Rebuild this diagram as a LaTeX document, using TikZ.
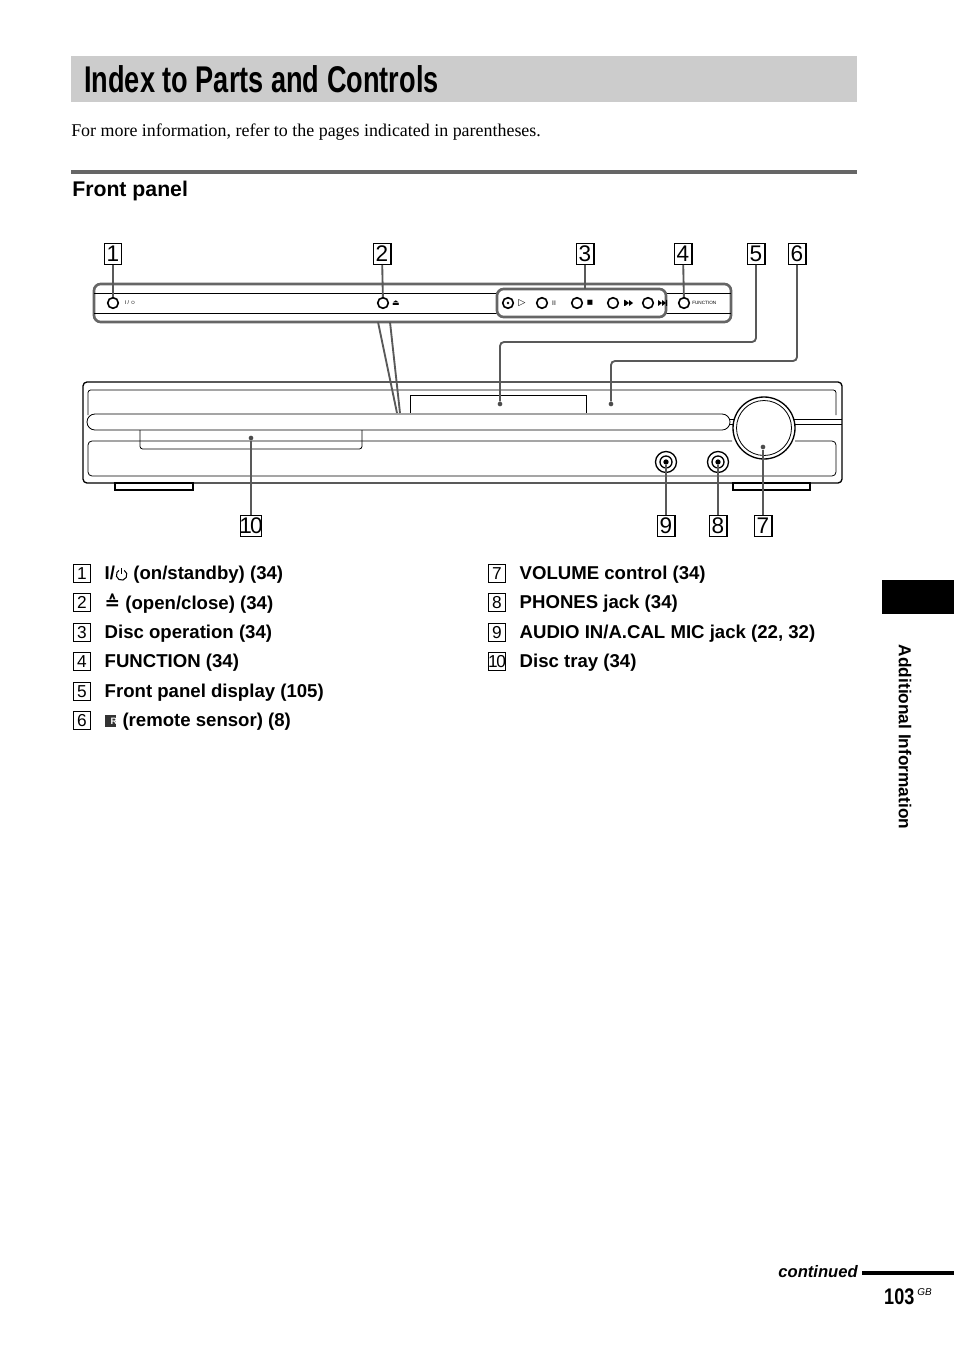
\documentclass[tikz,border=0pt]{standalone}
\usepackage{fontspec}
\setmainfont{Liberation Serif}
\setsansfont{Liberation Sans}
\newfontfamily\djfont{DejaVu Sans}
\begin{document}
\begin{tikzpicture}[x=0.0264583cm,y=-0.0264583cm,
  callout/.style={draw,line width=0.8pt,inner sep=0pt,minimum width=18pt*0.75,minimum height=21pt*0.75,font=\sffamily\fontsize{17}{17}\selectfont},
  lead/.style={draw=black!65,line width=1.4pt,rounded corners=3pt},
  gline/.style={draw=black!60,line width=2pt,rounded corners=5pt},
  dev/.style={draw,line width=1pt,rounded corners=3pt},
  btn/.style={circle,draw,line width=1.2pt,inner sep=0pt,minimum size=8pt},
  dotn/.style={circle,fill=black!70,inner sep=0pt,minimum size=3.5pt},
  item/.style={anchor=west,font=\sffamily\bfseries\fontsize{14}{15}\selectfont},
  nbox/.style={draw,line width=0.6pt,inner sep=0pt,minimum width=13pt,minimum height=13pt,font=\sffamily\fontsize{13}{13}\selectfont}]
\useasboundingbox (0,0) rectangle (954,1352);
% title
\fill[black!20] (71,56) rectangle (857,102);
\node[anchor=west,inner sep=0pt,xscale=0.73,transform shape] (title) at (84,79) {\sffamily\bfseries\fontsize{28}{30}\selectfont Index to Parts and Controls};
\node[anchor=west,inner sep=0pt] (intro) at (71,132) {\fontsize{13.5}{15}\selectfont For more information, refer to the pages indicated in parentheses.};
\fill[black!60] (71,170) rectangle (857,174);
\node[anchor=west,inner sep=0pt] (fp) at (72,191) {\sffamily\bfseries\fontsize{16}{17}\selectfont Front panel};
% strip
\draw[gline] (94,284) rectangle (731,322);
\draw[line width=0.6pt] (94,293) -- (731,293) (94,313) -- (731,313);
\draw[gline,fill=white] (497,289) rectangle (666,317);
\node[btn] (b1) at (113,303) {};
\node[font=\sffamily\fontsize{4}{4}\selectfont] (b1t) at (130,303) {I / $\circ$};
\node[btn] (b2) at (383,303) {};
\node[font=\djfont\fontsize{6}{6}\selectfont] (b2t) at (396,303) {⏏};
\node[btn] (b3a) at (508,303) {}; \node[circle,fill,inner sep=0pt,minimum size=2pt] at (508,303) {};
\node[font=\djfont\fontsize{7}{7}\selectfont] at (522,303) {▷};
\node[btn] (b3b) at (542,303) {}; \node[font=\sffamily\fontsize{5}{5}\selectfont] at (554,303) {II};
\node[btn] (b3c) at (577,303) {}; \node[font=\djfont\fontsize{5}{5}\selectfont] at (590,303) {■};
\node[btn] (b3d) at (613,303) {};
\fill (624,300) rectangle (625,306) (629,303) -- (625,300) -- (625,306) -- cycle (633,303) -- (629,300) -- (629,306) -- cycle;
\node[btn] (b3e) at (648,303) {};
\fill (658,300) -- (662,303) -- (658,306) -- cycle (662,300) -- (666,303) -- (662,306) -- cycle (666,300) rectangle (667,306);
\node[btn] (b4) at (684,303) {};
\node[anchor=west,font=\sffamily\fontsize{3.5}{4}\selectfont,inner sep=0pt] at (692,303) {FUNCTION};
% device
\draw[dev] (83,382) rectangle (842,483);
\draw[line width=0.6pt,rounded corners=2pt] (88,415) -- (88,390) -- (836,390) -- (836,415);
\draw[line width=0.6pt] (410,413) -- (410,395) -- (586,395) -- (586,413);
\draw[line width=0.6pt,rounded corners=6pt] (87,414) rectangle (730,430);
\draw[line width=0.6pt] (730,419) -- (842,419);
\draw[line width=0.6pt] (730,424) -- (842,424);
\draw[line width=0.6pt,rounded corners=2pt] (140,430) -- (140,449) -- (362,449) -- (362,430);
\draw[line width=0.6pt,rounded corners=3pt] (795,441) -- (836,441) -- (836,476) -- (88,476) -- (88,441) -- (732,441);
\draw[line width=1pt] (115,483) rectangle (193,490);
\draw[line width=1pt] (733,483) rectangle (810,490);
\draw[line width=1pt,fill=white] (764,428) circle (31);
\draw[line width=0.6pt] (764,428) circle (27.5);
\draw[line width=1pt] (666,462) circle (10.5) (666,462) circle (6);
\draw[line width=1pt] (718,462) circle (10.5) (718,462) circle (6);
\node[dotn] (d10) at (251,438) {};
\node[dotn] (d5) at (500,404) {};
\node[dotn] (d6) at (611,404) {};
\node[dotn] (d7) at (763,447) {};
\node[inner sep=0pt,minimum size=4pt,circle,fill] (d9) at (666,462) {};
\node[inner sep=0pt,minimum size=4pt,circle,fill] (d8) at (718,462) {};
% callouts
\node[callout] (c1) at (113,254) {1};
\node[callout] (c2) at (382,254) {2};
\node[callout] (c3) at (585,254) {3};
\node[callout] (c4) at (683,254) {4};
\node[callout] (c5) at (756,254) {5};
\node[callout] (c6) at (797,254) {6};
\node[callout,minimum width=22pt*0.75] (c10) at (251,526) {\kern-1pt1\kern-1.5pt0\kern-1pt};
\node[callout] (c9) at (666,526) {9};
\node[callout] (c8) at (718,526) {8};
\node[callout] (c7) at (763,526) {7};
\draw[lead] (c1) -- (b1);
\draw[lead] (c2) -- (b2);
\draw[lead] (c3) -- (585,289);
\draw[lead] (c4) -- (b4);
\draw[lead] (c5.south) -- (756,342) -- (500,342) -- (d5);
\draw[lead] (c6.south) -- (797,361) -- (611,361) -- (d6);
\draw[lead] (378,322) -- (397,413);
\draw[lead] (390,322) -- (400,413);
\draw[lead] (d10) -- (c10);
\draw[lead] (d9) -- (c9);
\draw[lead] (d8) -- (c8);
\draw[lead] (d7) -- (c7);
% list
\foreach \n/\y/\t in {1/575/{I/\tikz[x=1cm,y=1cm,baseline=-0.5ex]{\draw[line width=0.8pt] (60:0.14) arc (60:-240:0.14); \draw[line width=0.8pt] (0,0.02)--(0,0.18);} (on/standby) (34)},
 2/604/{{\djfont ≙} (open/close) (34)},3/634/{Disc operation (34)},4/663/{FUNCTION (34)},5/693/{Front panel display (105)},
 6/722/{\tikz[x=1cm,y=1cm,baseline=0pt]{\fill[black!80] (0,0) rectangle (0.3,0.3); \node[white,font=\sffamily\fontsize{7}{7}\selectfont,inner sep=0pt] at (0.15,0.15) {R};} (remote sensor) (8)}}{
  \node[nbox] (l\n) at (82,\y-1.5) {\n};
  \node[item] (lt\n) at (100,\y) {\t};
}
\foreach \n/\y/\t in {7/575/{VOLUME control (34)},8/604/{PHONES jack (34)},9/634/{AUDIO IN/A.CAL MIC jack (22, 32)}}{
  \node[nbox] (l\n) at (497,\y-1.5) {\n};
  \node[item] (lt\n) at (515,\y) {\t};
}
\node[nbox] (l10) at (497,661.5) {\kern-0.5pt1\kern-1pt0\kern-0.5pt};
\node[item] (lt10) at (515,663) {Disc tray (34)};
% sidebar
\fill (882,580) rectangle (954,614);
\node[rotate=-90,font=\sffamily\bfseries\fontsize{13}{14}\selectfont] (side) at (905,737) {Additional Information};
% footer
\node[anchor=east,inner sep=0pt,font=\sffamily\bfseries\itshape\fontsize{12.5}{13}\selectfont] (cont) at (858,1272) {continued};
\fill (862,1270.5) rectangle (954,1274.5);
\node[anchor=west,inner sep=0pt,xscale=0.8,transform shape] (pg) at (884,1297) {\sffamily\bfseries\fontsize{17}{18}\selectfont 103};
\node[anchor=west,inner sep=0pt,font=\sffamily\itshape\fontsize{7.5}{8}\selectfont] (gb) at (917,1292) {GB};
\end{tikzpicture}
\end{document}
